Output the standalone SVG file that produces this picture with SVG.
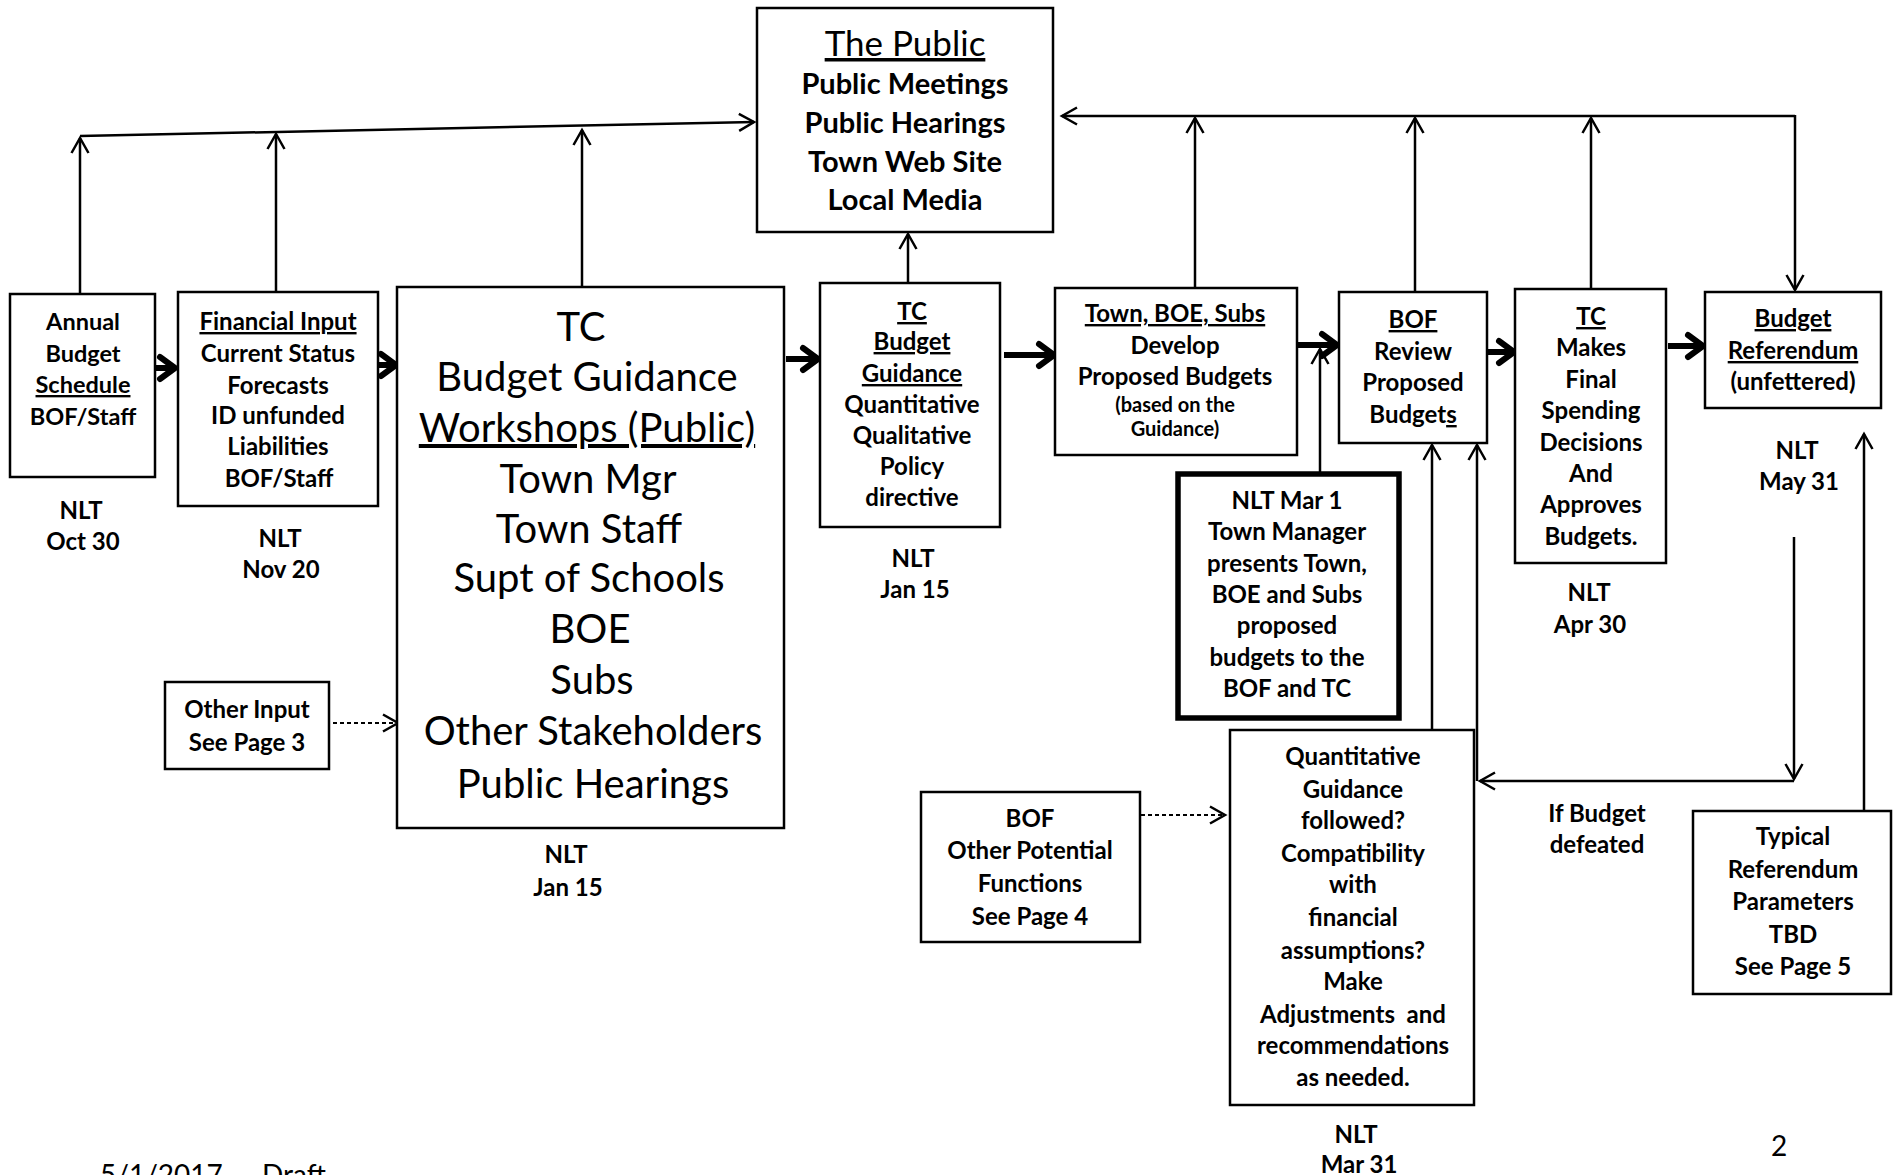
<svg xmlns="http://www.w3.org/2000/svg" width="1897" height="1175" viewBox="0 0 1897 1175">
<style>
text{font-family:Lato,"Liberation Sans",sans-serif;fill:#000;text-anchor:middle}
.b{font-weight:bold;font-size:24px}
.r{font-weight:normal}
.big{font-size:40px}
.pub{font-size:29px}
.sm{font-size:20px}
.ann{font-size:23.5px}
.tp{font-size:35px}
.ft{font-size:28px}
.u{text-decoration:underline}
.box{fill:#fff;stroke:#000;stroke-width:2.5}
.heavy{fill:#fff;stroke:#000;stroke-width:5.5}
.ln{fill:none;stroke:#000;stroke-width:2.5}
.dash{fill:none;stroke:#000;stroke-width:2;stroke-dasharray:4 3}
.thk{fill:none;stroke:#000;stroke-width:6}
</style>
<defs>
<marker id="ah" markerUnits="userSpaceOnUse" viewBox="-20 -12 24 24" refX="0" refY="0" markerWidth="24" markerHeight="24" orient="auto">
<path d="M-15,-8.5 L0,0 L-15,8.5" fill="none" stroke="#000" stroke-width="2.5" stroke-linejoin="miter"/>
</marker>
<marker id="ahk" markerUnits="userSpaceOnUse" viewBox="-24 -16 28 32" refX="0" refY="0" markerWidth="28" markerHeight="32" orient="auto">
<path d="M-15,-11 L0,0 L-15,11" fill="none" stroke="#000" stroke-width="6" stroke-linecap="round" stroke-linejoin="round"/>
</marker>
</defs>
<rect width="1897" height="1175" fill="#fff"/>

<g id="connectors">
<line class="ln" x1="80" y1="136" x2="754" y2="122" marker-end="url(#ah)"/>
<line class="ln" x1="80" y1="294" x2="80" y2="138" marker-end="url(#ah)"/>
<line class="ln" x1="276" y1="292" x2="276" y2="134" marker-end="url(#ah)"/>
<line class="ln" x1="582" y1="287" x2="582" y2="130" marker-end="url(#ah)"/>
<line class="ln" x1="908" y1="283" x2="908" y2="234" marker-end="url(#ah)"/>
<line class="ln" x1="1795" y1="116" x2="1062" y2="116" marker-end="url(#ah)"/>
<line class="ln" x1="1795" y1="115" x2="1795" y2="290" marker-end="url(#ah)"/>
<line class="ln" x1="1195" y1="288" x2="1195" y2="118" marker-end="url(#ah)"/>
<line class="ln" x1="1415" y1="292" x2="1415" y2="118" marker-end="url(#ah)"/>
<line class="ln" x1="1591" y1="289" x2="1591" y2="118" marker-end="url(#ah)"/>
<line class="ln" x1="1320" y1="473" x2="1320" y2="349" marker-end="url(#ah)"/>
<line class="ln" x1="1432" y1="730" x2="1432" y2="445" marker-end="url(#ah)"/>
<line class="ln" x1="1477" y1="781" x2="1477" y2="445" marker-end="url(#ah)"/>
<line class="ln" x1="1794" y1="537" x2="1794" y2="779" marker-end="url(#ah)"/>
<line class="ln" x1="1794" y1="781" x2="1480" y2="781" marker-end="url(#ah)"/>
<line class="ln" x1="1864" y1="811" x2="1864" y2="434" marker-end="url(#ah)"/>
<line class="dash" x1="333" y1="723" x2="398" y2="723" marker-end="url(#ah)"/>
<line class="dash" x1="1134" y1="815" x2="1225" y2="815" marker-end="url(#ah)"/>
<line class="thk" x1="155" y1="368" x2="175" y2="368" marker-end="url(#ahk)"/>
<line class="thk" x1="378" y1="365" x2="396" y2="365" marker-end="url(#ahk)"/>
<line class="thk" x1="786" y1="359" x2="818" y2="359" marker-end="url(#ahk)"/>
<line class="thk" x1="1004" y1="355" x2="1054" y2="355" marker-end="url(#ahk)"/>
<line class="thk" x1="1298" y1="345" x2="1337" y2="345" marker-end="url(#ahk)"/>
<line class="thk" x1="1488" y1="352" x2="1514" y2="352" marker-end="url(#ahk)"/>
<line class="thk" x1="1668" y1="346" x2="1703" y2="346" marker-end="url(#ahk)"/>
</g>

<g id="public">
<rect class="box" x="757" y="8" width="296" height="224"/>
<text class="r u tp" x="905" y="56">The Public</text>
<text class="b pub" x="905" y="94">Public Meetings</text>
<text class="b pub" x="905" y="133">Public Hearings</text>
<text class="b pub" x="905" y="172">Town Web Site</text>
<text class="b pub" x="905" y="210">Local Media</text>
</g>

<g id="annual">
<rect class="box" x="10" y="294" width="145" height="183"/>
<text class="b ann" x="83" y="330">Annual</text>
<text class="b ann" x="83" y="362">Budget</text>
<text class="b u ann" x="83" y="393">Schedule</text>
<text class="b ann" x="83" y="425">BOF/Staff</text>
<text class="b" x="81" y="519">NLT</text>
<text class="b" x="83" y="550">Oct 30</text>
</g>

<g id="financial">
<rect class="box" x="178" y="292" width="200" height="214"/>
<text class="b u" x="278" y="330">Financial Input</text>
<text class="b" x="278" y="362">Current Status</text>
<text class="b" x="278" y="394">Forecasts</text>
<text class="b" x="278" y="424">ID unfunded</text>
<text class="b" x="278" y="455">Liabilities</text>
<text class="b" x="279" y="487">BOF/Staff</text>
<text class="b" x="280" y="547">NLT</text>
<text class="b" x="281" y="578">Nov 20</text>
</g>

<g id="tc-workshops">
<rect class="box" x="397" y="287" width="387" height="541"/>
<text class="big" x="581" y="341">TC</text>
<text class="big" x="587" y="391">Budget Guidance</text>
<text class="big u" x="587" y="442">Workshops (Public)</text>
<text class="big" x="588" y="493">Town Mgr</text>
<text class="big" x="589" y="543">Town Staff</text>
<text class="big" x="589" y="592">Supt of Schools</text>
<text class="big" x="590" y="643">BOE</text>
<text class="big" x="592" y="694">Subs</text>
<text class="big" x="593" y="745">Other Stakeholders</text>
<text class="big" x="593" y="798">Public Hearings</text>
<text class="b" x="566" y="863">NLT</text>
<text class="b" x="568" y="896">Jan 15</text>
</g>

<g id="other-input">
<rect class="box" x="165" y="682" width="164" height="87"/>
<text class="b" x="247" y="718">Other Input</text>
<text class="b" x="247" y="751">See Page 3</text>
</g>

<g id="tc-guidance">
<rect class="box" x="820" y="283" width="180" height="244"/>
<text class="b u" x="912" y="320">TC</text>
<text class="b u" x="912" y="350">Budget </text>
<text class="b u" x="912" y="382">Guidance</text>
<text class="b" x="912" y="413">Quantitative</text>
<text class="b" x="912" y="444">Qualitative</text>
<text class="b" x="912" y="475">Policy</text>
<text class="b" x="912" y="506">directive</text>
<text class="b" x="913" y="567">NLT</text>
<text class="b" x="915" y="598">Jan 15</text>
</g>

<g id="develop">
<rect class="box" x="1055" y="288" width="242" height="167"/>
<text class="b u" x="1175" y="322">Town, BOE, Subs</text>
<text class="b" x="1175" y="354">Develop</text>
<text class="b" x="1175" y="385">Proposed Budgets</text>
<text class="b sm" x="1175" y="412">(based on the</text>
<text class="b sm" x="1175" y="436">Guidance)</text>
</g>

<g id="bof-review">
<rect class="box" x="1339" y="292" width="148" height="151"/>
<text class="b u" x="1413" y="328">BOF</text>
<text class="b" x="1413" y="360">Review</text>
<text class="b" x="1413" y="391">Proposed</text>
<text class="b" x="1413" y="423">Budget<tspan style="text-decoration:underline">s</tspan></text>
</g>

<g id="tc-final">
<rect class="box" x="1515" y="289" width="151" height="274"/>
<text class="b u" x="1591" y="325">TC</text>
<text class="b" x="1591" y="356">Makes</text>
<text class="b" x="1591" y="388">Final</text>
<text class="b" x="1591" y="419">Spending</text>
<text class="b" x="1591" y="451">Decisions</text>
<text class="b" x="1591" y="482">And</text>
<text class="b" x="1591" y="513">Approves</text>
<text class="b" x="1591" y="545">Budgets.</text>
<text class="b" x="1589" y="601">NLT</text>
<text class="b" x="1590" y="633">Apr 30</text>
</g>

<g id="referendum">
<rect class="box" x="1705" y="292" width="176" height="116"/>
<text class="b u" x="1793" y="327">Budget</text>
<text class="b u" x="1793" y="359">Referendum</text>
<text class="b" x="1793" y="390">(unfettered)</text>
<text class="b" x="1797" y="459">NLT</text>
<text class="b" x="1799" y="490">May 31</text>
</g>

<g id="mar1">
<rect class="heavy" x="1178" y="474" width="221" height="244"/>
<text class="b" x="1287" y="509">NLT Mar 1</text>
<text class="b" x="1287" y="540">Town Manager</text>
<text class="b" x="1287" y="572">presents Town,</text>
<text class="b" x="1287" y="603">BOE and Subs</text>
<text class="b" x="1287" y="634">proposed</text>
<text class="b" x="1287" y="666">budgets to the</text>
<text class="b" x="1287" y="697">BOF and TC</text>
</g>

<g id="bof-other">
<rect class="box" x="921" y="792" width="219" height="150"/>
<text class="b" x="1030" y="827">BOF</text>
<text class="b" x="1030" y="859">Other Potential</text>
<text class="b" x="1030" y="892">Functions</text>
<text class="b" x="1030" y="925">See Page 4</text>
</g>

<g id="quant-check">
<rect class="box" x="1230" y="730" width="244" height="375"/>
<text class="b" x="1353" y="765">Quantitative</text>
<text class="b" x="1353" y="798">Guidance</text>
<text class="b" x="1353" y="829">followed?</text>
<text class="b" x="1353" y="862">Compatibility</text>
<text class="b" x="1353" y="893">with</text>
<text class="b" x="1353" y="926">financial</text>
<text class="b" x="1353" y="959">assumptions?</text>
<text class="b" x="1353" y="990">Make</text>
<text class="b" x="1353" y="1023" style="white-space:pre">Adjustments  and</text>
<text class="b" x="1353" y="1054">recommendations</text>
<text class="b" x="1353" y="1086">as needed.</text>
<text class="b" x="1356" y="1143">NLT</text>
<text class="b" x="1359" y="1173">Mar 31</text>
</g>

<g id="defeated-label">
<text class="b" x="1597" y="822">If Budget</text>
<text class="b" x="1597" y="853">defeated</text>
</g>

<g id="typical">
<rect class="box" x="1693" y="811" width="198" height="183"/>
<text class="b" x="1793" y="845">Typical</text>
<text class="b" x="1793" y="878">Referendum</text>
<text class="b" x="1793" y="910">Parameters</text>
<text class="b" x="1793" y="943">TBD</text>
<text class="b" x="1793" y="975">See Page 5</text>
</g>

<g id="footer">
<text class="ft" x="1779" y="1156">2</text>
<text class="ft" x="100" y="1185" style="text-anchor:start">5/1/2017</text>
<text class="ft" x="262" y="1185" style="text-anchor:start">Draft</text>
</g>
</svg>
